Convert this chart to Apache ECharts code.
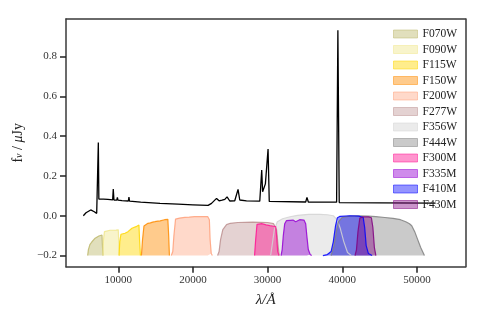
<!DOCTYPE html>
<html>
<head>
<meta charset="utf-8">
<script src="https://cdn.jsdelivr.net/npm/echarts@6.0.0/dist/echarts.min.js"></script>
<style>
  html, body { margin: 0; padding: 0; background: #fff; }
  #chart { width: 485px; height: 323px; }
</style>
</head>
<body>
<div id="chart"></div>
<script>
// tick values
const xTicks = [10000, 20000, 30000, 40000, 50000];
const yTicks = [-0.2, 0.0, 0.2, 0.4, 0.6, 0.8];

// model spectrum [wavelength (A), flux (uJy)]
const spectrum = [
  [5320, 0.0], [5680, 0.015], [6310, 0.029], [6790, 0.02], [7110, 0.012], [7260, 0.017],
  [7330, 0.368], [7400, 0.084], [8000, 0.083], [8600, 0.082], [9250, 0.08], [9330, 0.134],
  [9420, 0.079], [9800, 0.078], [9880, 0.092], [9960, 0.078], [10500, 0.076], [11350, 0.074],
  [11430, 0.094], [11510, 0.073], [13000, 0.068], [15600, 0.062], [18000, 0.058], [20000, 0.055],
  [22030, 0.052], [22490, 0.062], [23160, 0.087], [23500, 0.075], [23900, 0.078], [24270, 0.082],
  [24570, 0.095], [24930, 0.074], [25600, 0.075], [26040, 0.132], [26270, 0.079], [27170, 0.075],
  [28950, 0.073], [29100, 0.075], [29210, 0.23], [29330, 0.12], [29530, 0.112], [29700, 0.16],
  [29850, 0.17], [30060, 0.335], [30220, 0.072], [35100, 0.069], [35270, 0.092], [35450, 0.069],
  [39240, 0.068], [39410, 0.932], [39590, 0.066], [45000, 0.065], [52500, 0.063]
];

// filter throughputs, shifted to sit on -0.2
const f070w = [[5900, -0.2], [6000, -0.17], [6200, -0.145], [6450, -0.132], [6900, -0.113], [7400, -0.102], [7820, -0.097], [7880, -0.15], [7950, -0.2]];
const f090w = [[7950, -0.2], [8020, -0.12], [8150, -0.08], [8900, -0.073], [9700, -0.072], [10000, -0.071], [10080, -0.14], [10160, -0.2]];
const f115w = [[10100, -0.2], [10200, -0.13], [10360, -0.093], [10600, -0.092], [10900, -0.088], [11100, -0.086], [11300, -0.08], [11500, -0.078], [11830, -0.063], [12000, -0.066], [12370, -0.055], [12550, -0.052], [12770, -0.047], [12850, -0.12], [12970, -0.2]];
const f150w = [[13100, -0.2], [13250, -0.12], [13440, -0.052], [13700, -0.045], [13970, -0.038], [14300, -0.036], [14600, -0.032], [14910, -0.03], [15300, -0.027], [15600, -0.026], [15840, -0.022], [16200, -0.02], [16640, -0.018], [16750, -0.1], [16850, -0.2]];
const f200w = [[17100, -0.2], [17300, -0.18], [17450, -0.1], [17670, -0.017], [18200, -0.012], [18910, -0.008], [19500, -0.007], [20200, -0.005], [20920, -0.005], [21500, -0.004], [21990, -0.005], [22200, -0.02], [22300, -0.12], [22450, -0.19], [22600, -0.2]];
const f277w = [[23300, -0.2], [23500, -0.18], [23700, -0.12], [24000, -0.07], [24500, -0.045], [25000, -0.038], [26000, -0.034], [27000, -0.033], [28000, -0.032], [29000, -0.033], [30000, -0.034], [30800, -0.04], [31200, -0.07], [31400, -0.15], [31550, -0.2]];
const f356w = [[30400, -0.2], [30600, -0.15], [30900, -0.07], [31300, -0.03], [32000, -0.015], [33000, -0.005], [34000, 0.002], [35500, 0.007], [37000, 0.007], [38000, 0.005], [38800, 0.0], [39300, -0.02], [39700, -0.06], [40200, -0.13], [40700, -0.185], [41200, -0.2]];
const f444w = [[38500, -0.2], [38900, -0.15], [39200, -0.08], [39500, -0.03], [40000, -0.008], [41000, -0.002], [42000, 0.0], [43500, -0.002], [44500, -0.005], [45700, -0.009], [46800, -0.013], [47800, -0.02], [48500, -0.03], [49000, -0.04], [49300, -0.05], [49700, -0.08], [50100, -0.12], [50500, -0.16], [51000, -0.2]];
const f300m = [[28250, -0.2], [28400, -0.12], [28580, -0.043], [29200, -0.04], [29800, -0.046], [30300, -0.05], [30800, -0.053], [31080, -0.055], [31200, -0.1], [31350, -0.18], [31530, -0.2]];
const f335m = [[31800, -0.2], [31950, -0.17], [32100, -0.1], [32290, -0.04], [32510, -0.025], [33000, -0.023], [33400, -0.022], [33600, -0.025], [33760, -0.03], [34000, -0.024], [34290, -0.02], [34870, -0.022], [35100, -0.04], [35250, -0.1], [35450, -0.17], [35700, -0.195], [35900, -0.2]];
const f410m = [[37400, -0.2], [38000, -0.195], [38500, -0.18], [38800, -0.13], [39100, -0.05], [39350, -0.01], [39700, -0.003], [41000, 0.0], [42200, -0.002], [42800, -0.008], [43000, -0.06], [43200, -0.15], [43500, -0.19], [44000, -0.2]];
const f430m = [[41700, -0.2], [41900, -0.17], [42100, -0.08], [42350, -0.012], [42700, -0.006], [43500, -0.006], [43900, -0.01], [44100, -0.06], [44300, -0.16], [44500, -0.2]];

const filterNames = ['F070W', 'F090W', 'F115W', 'F150W', 'F200W', 'F277W', 'F356W', 'F444W', 'F300M', 'F335M', 'F410M', 'F430M'];
const filterCurves = [f070w, f090w, f115w, f150w, f200w, f277w, f356w, f444w, f300m, f335m, f410m, f430m];

// base colours (r,g,b) + fill alpha
const filterRgb = [
  [189, 183, 107], [240, 230, 140], [255, 215, 0], [255, 140, 0], [255, 160, 122], [188, 143, 143],
  [211, 211, 211], [128, 128, 128], [255, 20, 147], [148, 0, 211], [0, 0, 255], [128, 0, 128]
];
const fillAlpha = [0.45, 0.45, 0.45, 0.45, 0.4, 0.4, 0.45, 0.42, 0.45, 0.45, 0.42, 0.42];

const serif = 'Liberation Serif';
const rgba = (c, a) => 'rgba(' + c[0] + ',' + c[1] + ',' + c[2] + ',' + a + ')';

const chart = echarts.init(document.getElementById('chart'), null, { renderer: 'canvas' });

const series = filterNames.map((name, i) => ({
  name: name,
  type: 'line',
  data: filterCurves[i],
  showSymbol: false,
  symbol: 'none',
  lineStyle: { color: rgba(filterRgb[i], 0.85), width: 1.2 },
  areaStyle: { color: rgba(filterRgb[i], fillAlpha[i]), origin: -0.2, opacity: 1 },
  silent: true
}));

series.push({
  name: 'spectrum',
  type: 'line',
  data: spectrum,
  showSymbol: false,
  symbol: 'none',
  lineStyle: { color: '#000', width: 1.3 },
  z: 3,
  silent: true
});

const frameLine = () => ({ show: true, onZero: false, lineStyle: { color: '#3a3a3a', width: 1.5 } });

// top / right axes only draw the frame
const bareX = { type: 'value', position: 'top', min: 3000, max: 56500, axisLine: frameLine(), axisTick: { show: false }, axisLabel: { show: false }, splitLine: { show: false } };
const bareY = { type: 'value', position: 'right', min: -0.256, max: 0.988, axisLine: frameLine(), axisTick: { show: false }, axisLabel: { show: false }, splitLine: { show: false } };

const option = {
  animation: false,
  backgroundColor: '#fff',
  grid: { left: 66, right: 19.5, top: 19, bottom: 56.3 },
  legend: {
    orient: 'vertical',
    left: 388,
    top: 23,
    icon: 'rect',
    itemWidth: 24,
    itemHeight: 8,
    itemGap: 3.5,
    selectedMode: false,
    textStyle: { fontFamily: serif, fontSize: 11.5, color: '#222', lineHeight: 12 },
    data: filterNames.map((name, i) => ({
      name: name,
      itemStyle: { color: rgba(filterRgb[i], fillAlpha[i]), borderColor: rgba(filterRgb[i], 0.5), borderWidth: 1 }
    }))
  },
  xAxis: [{
    type: 'value',
    position: 'bottom',
    min: 3000,
    max: 56500,
    name: 'λ/Å',
    nameLocation: 'middle',
    nameGap: 26,
    nameTextStyle: { fontFamily: serif, fontSize: 15, fontStyle: 'italic', color: '#222' },
    axisLine: frameLine(),
    splitLine: { show: false },
    axisTick: { show: true, length: 6, inside: false, lineStyle: { color: '#222', width: 1.5 }, customValues: xTicks },
    axisLabel: { fontFamily: serif, fontSize: 11, color: '#333', margin: 8, customValues: xTicks, formatter: v => String(v) }
  }, bareX],
  yAxis: [{
    type: 'value',
    position: 'left',
    min: -0.256,
    max: 0.988,
    name: '{t|f}{s|ν}{t| / }{m|μ}{t|Jy}',
    nameLocation: 'middle',
    nameGap: 38,
    nameRotate: 90,
    nameTextStyle: {
      fontFamily: serif, fontSize: 14, color: '#222',
      rich: {
        t: { fontFamily: serif, fontSize: 14, color: '#222', padding: [0, 0, 3, 0] },
        s: { fontFamily: serif, fontSize: 10, fontStyle: 'italic', color: '#222' },
        m: { fontFamily: serif, fontSize: 14, fontStyle: 'italic', color: '#222', padding: [0, 0, 3, 0] }
      }
    },
    axisLine: frameLine(),
    splitLine: { show: false },
    axisTick: { show: true, length: 6, inside: false, lineStyle: { color: '#222', width: 1.5 }, customValues: yTicks },
    axisLabel: {
      fontFamily: serif, fontSize: 11, color: '#333', margin: 9, customValues: yTicks,
      formatter: v => v.toFixed(1).replace('-', '\u2212')
    }
  }, bareY],
  series: series
};

chart.setOption(option);
</script>
</body>
</html>
